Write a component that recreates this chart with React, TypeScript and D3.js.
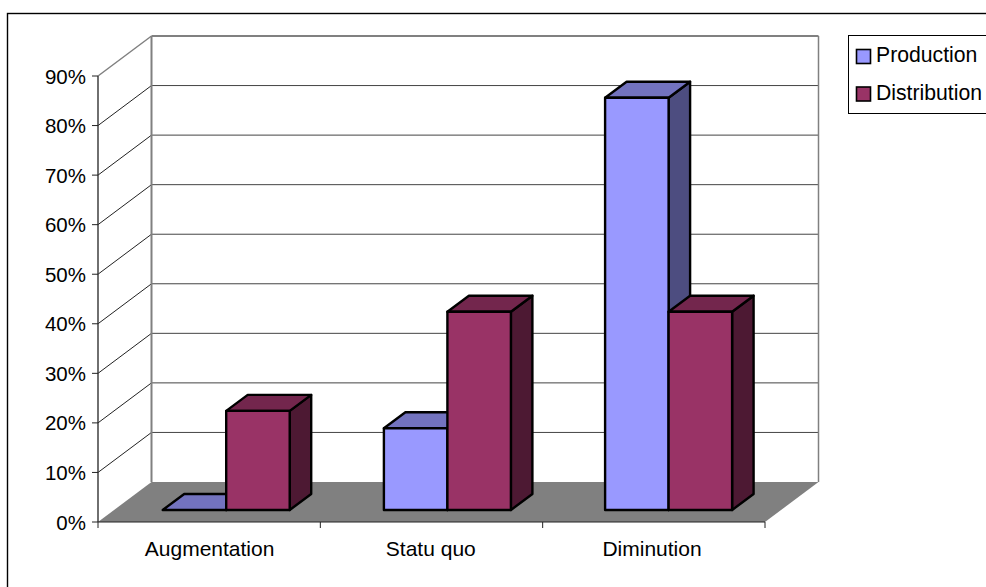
import React from "react";
import * as d3 from "d3";

const categories = ["Augmentation", "Statu quo", "Diminution"];
const seriesNames = ["Production", "Distribution"];
const production = [0, 16.5, 83.2];
const distribution = [20, 40, 40];
const yTicks = [0, 10, 20, 30, 40, 50, 60, 70, 80, 90];

const faceColors = [
  { front: "#9999ff", top: "#7373bf", side: "#4d4d80" },
  { front: "#993366", top: "#73264d", side: "#4d1933" },
];

const FONT = "'Liberation Sans', Arial, sans-serif";
const FRONT_LEFT = 98;
const FRONT_RIGHT = 765;
const FRONT_Y0 = 522;
const FRONT_Y90 = 76;
const WALL_DX = 53.5;
const WALL_DY = -40;
const BAR_DX = 21.5;
const BAR_DY = -16;
const BAR_BASE_SHIFT = -12;

const y = d3.scaleLinear().domain([0, 90]).range([FRONT_Y0, FRONT_Y90]);
// Tick marks divide the full axis; bars and labels sit on a slightly tighter band.
const xTicks = d3.scaleBand<string>().domain(categories).range([FRONT_LEFT, FRONT_RIGHT]);
const x = d3.scaleBand<string>().domain(categories).range([99, 762.6]);
const barWidth = 63.5;
const BAR_CENTER_SHIFT = 16.6;

const poly = (pts: [number, number][]) => d3.line()(pts) + "Z";

export default function App() {
  const barsOf = (values: number[], s: number) =>
    values.map((v, i) => {
      const cx = x(categories[i])! + x.bandwidth() / 2 + BAR_CENTER_SHIFT;
      const x0 = cx + (s - 1) * barWidth;
      const x1 = x0 + barWidth;
      const yb = y(0) + BAR_BASE_SHIFT;
      const yt = y(v) + BAR_BASE_SHIFT;
      const c = faceColors[s];
      return { key: `${s}-${i}`, x0, x1, yb, yt, c };
    });

  const all = [barsOf(production, 0), barsOf(distribution, 1)];
  // Paint order per category: production first, then distribution on top of it.
  const ordered = categories.flatMap((_, i) => [all[0][i], all[1][i]]);

  return (
    <svg
      width={986}
      height={587}
      style={{ position: "absolute", left: 0, top: 0, background: "#fff" }}
      fontFamily={FONT}
    >
      <rect x={7.5} y={13.5} width={1000} height={620} fill="#fff" stroke="#000" strokeWidth={1.4} />

      {/* floor */}
      <path
        d={poly([
          [FRONT_LEFT, FRONT_Y0],
          [FRONT_LEFT + WALL_DX, FRONT_Y0 + WALL_DY],
          [FRONT_RIGHT + WALL_DX, FRONT_Y0 + WALL_DY],
          [FRONT_RIGHT, FRONT_Y0],
        ])}
        fill="#808080"
      />

      {/* gridlines across the back and side walls */}
      {yTicks.slice(1).map((t) => (
        <g key={t}>
          <line
            x1={FRONT_LEFT}
            y1={y(t)}
            x2={FRONT_LEFT + WALL_DX}
            y2={y(t) + WALL_DY}
            stroke={t === 90 ? "#808080" : "#222"}
            strokeWidth={t === 90 ? 1.5 : 1}
          />
          <line
            x1={FRONT_LEFT + WALL_DX}
            y1={y(t) + WALL_DY}
            x2={FRONT_RIGHT + WALL_DX}
            y2={y(t) + WALL_DY}
            stroke={t === 90 ? "#808080" : "#444"}
            strokeWidth={t === 90 ? 2 : 1}
          />
        </g>
      ))}
      <line
        x1={FRONT_LEFT + WALL_DX}
        x2={FRONT_LEFT + WALL_DX}
        y1={y(90) + WALL_DY}
        y2={y(0) + WALL_DY}
        stroke="#808080"
        strokeWidth={2}
      />
      <line
        x1={FRONT_RIGHT + WALL_DX}
        x2={FRONT_RIGHT + WALL_DX}
        y1={y(90) + WALL_DY}
        y2={y(0) + WALL_DY}
        stroke="#808080"
        strokeWidth={1.5}
      />

      {/* value axis */}
      <line x1={FRONT_LEFT} x2={FRONT_LEFT} y1={y(90)} y2={y(0)} stroke="#333" strokeWidth={1.4} />
      {yTicks.map((t) => (
        <g key={t}>
          <line x1={FRONT_LEFT - 6} x2={FRONT_LEFT} y1={y(t)} y2={y(t)} stroke="#222" />
          <text x={FRONT_LEFT - 12} y={y(t) + 7.5} textAnchor="end" fontSize={20.5} fill="#000">
            {t}%
          </text>
        </g>
      ))}

      {/* category axis */}
      <line x1={FRONT_LEFT} x2={FRONT_RIGHT} y1={FRONT_Y0} y2={FRONT_Y0} stroke="#222" strokeWidth={1} />
      {[...categories.map((c) => xTicks(c)!), FRONT_RIGHT].map((px) => (
        <line key={px} x1={px} x2={px} y1={FRONT_Y0} y2={FRONT_Y0 + 6} stroke="#222" />
      ))}
      {categories.map((c) => (
        <text
          key={c}
          x={x(c)! + x.bandwidth() / 2}
          y={556}
          textAnchor="middle"
          fontSize={21}
          fill="#000"
        >
          {c}
        </text>
      ))}

      {/* 3D bars */}
      {ordered.map((b) => (
        <g key={b.key} stroke="#000" strokeWidth={2.4} strokeLinejoin="round">
          <path
            d={poly([
              [b.x1, b.yb],
              [b.x1 + BAR_DX, b.yb + BAR_DY],
              [b.x1 + BAR_DX, b.yt + BAR_DY],
              [b.x1, b.yt],
            ])}
            fill={b.c.side}
          />
          <path
            d={poly([
              [b.x0, b.yt],
              [b.x0 + BAR_DX, b.yt + BAR_DY],
              [b.x1 + BAR_DX, b.yt + BAR_DY],
              [b.x1, b.yt],
            ])}
            fill={b.c.top}
          />
          <rect x={b.x0} y={b.yt} width={b.x1 - b.x0} height={b.yb - b.yt} fill={b.c.front} />
        </g>
      ))}

      {/* legend */}
      <rect x={848.5} y={35.5} width={150} height={78} fill="#fff" stroke="#000" strokeWidth={1} />
      {seriesNames.map((n, i) => (
        <g key={n}>
          <rect
            x={856.5}
            y={49.5 + i * 37.5}
            width={14}
            height={14}
            fill={faceColors[i].front}
            stroke="#000"
            strokeWidth={1.6}
          />
          <text x={876} y={62 + i * 37.5} fontSize={21.2} fill="#000">
            {n}
          </text>
        </g>
      ))}
    </svg>
  );
}
